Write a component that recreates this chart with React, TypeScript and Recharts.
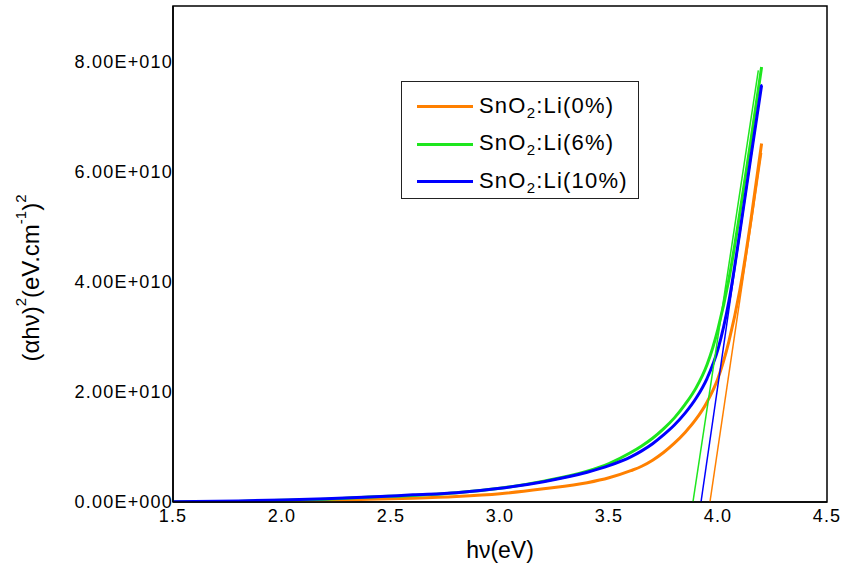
import { LineChart, Line, XAxis, YAxis, Legend, Label, ReferenceArea } from "recharts";

// photon energy grid (eV)
const hv = [1.5, 1.8, 2.0, 2.2, 2.4, 2.6, 2.8, 3.0, 3.2, 3.4, 3.5, 3.6, 3.65, 3.7, 3.75, 3.8, 3.85, 3.9, 3.95, 4.0, 4.05, 4.1, 4.15, 4.2];

// (alpha h nu)^2 in units of 1E+10
const li0 = [0.0, 0.005, 0.015, 0.03, 0.05, 0.07, 0.1, 0.15, 0.24, 0.35, 0.44, 0.57, 0.65, 0.76, 0.9, 1.07, 1.27, 1.51, 1.82, 2.25, 2.92, 3.85, 5.1, 6.52];
const li6 = [0.0, 0.01, 0.03, 0.05, 0.09, 0.12, 0.17, 0.25, 0.38, 0.56, 0.7, 0.9, 1.02, 1.16, 1.33, 1.53, 1.78, 2.08, 2.5, 3.15, 4.05, 5.25, 6.55, 7.91];
const li10 = [0.005, 0.02, 0.036, 0.06, 0.09, 0.13, 0.17, 0.25, 0.37, 0.54, 0.66, 0.82, 0.93, 1.06, 1.22, 1.4, 1.62, 1.89, 2.25, 2.78, 3.65, 4.9, 6.25, 7.58];

// linear fits (band gap extrapolation)
const fit0X = [3.963, 4.2];
const fit0Y = [0, 6.35];
const fit6X = [3.885, 4.185];
const fit6Y = [0, 7.85];
const fit10X = [3.922, 4.2];
const fit10Y = [0, 7.6];

const xTicks = [1.5, 2.0, 2.5, 3.0, 3.5, 4.0, 4.5];
const yTicks = [0, 2, 4, 6, 8];
const legendOrder = ["0%", "6%", "10%"];

const zip = (xs: number[], ys: number[]) => xs.map((x, i) => ({ x, y: ys[i] }));

const FONT = "'Liberation Sans', Arial, sans-serif";

const fmtY = (v: number) => v.toFixed(2) + (v === 0 ? "E+000" : "E+010");

function LegendBox({ payload }: any) {
  const items = (payload || [])
    .filter((p: any) => legendOrder.includes(p.value))
    .sort((a: any, b: any) => legendOrder.indexOf(a.value) - legendOrder.indexOf(b.value));
  return (
    <div
      style={{
        border: "1px solid #222",
        background: "#fff",
        width: 238,
        height: 118,
        boxSizing: "border-box",
        paddingTop: 6,
        fontFamily: FONT,
        fontSize: 22,
        color: "#000",
      }}
    >
      {items.map((p: any) => (
        <div key={p.value} style={{ display: "flex", alignItems: "center", height: 37.5 }}>
          <div style={{ width: 56, height: 3, background: p.color, marginLeft: 15, marginRight: 6 }} />
          <span style={{ letterSpacing: 1.2, whiteSpace: "nowrap" }}>
            SnO<sub style={{ fontSize: 15 }}>2</sub>:Li({p.value})
          </span>
        </div>
      ))}
    </div>
  );
}

function YTitle({ viewBox }: any) {
  const cx = 30;
  const cy = viewBox.y + viewBox.height / 2 + 24;
  return (
    <text
      x={cx}
      y={cy}
      transform={`rotate(-90 ${cx} ${cy})`}
      textAnchor="middle"
      dominantBaseline="central"
      fontFamily={FONT}
      fontSize={24}
      fill="#000"
    >
      (αhν)
      <tspan dy={-10} fontSize={15}>2</tspan>
      <tspan dy={10}>(eV.cm</tspan>
      <tspan dy={-10} fontSize={15}>-1</tspan>
      <tspan dy={10}>)</tspan>
      <tspan dy={-10} fontSize={15}>2</tspan>
    </text>
  );
}

const tickStyle = { fill: "#000", fontSize: 18, fontFamily: FONT, letterSpacing: 1.2 };

export default function App() {
  return (
    <div style={{ position: "absolute", left: 0, top: 0, background: "#fff" }}>
      <LineChart width={843} height={564} margin={{ top: 6, right: 16, bottom: 0, left: 0 }}>
        <XAxis
          dataKey="x"
          type="number"
          domain={[1.5, 4.5]}
          ticks={xTicks}
          tickFormatter={(v: number) => v.toFixed(1)}
          allowDataOverflow
          height={62}
          tickLine={false}
          tickSize={0}
          tickMargin={7}
          axisLine={{ stroke: "#000", strokeWidth: 1.5 }}
          tick={tickStyle}
        >
          <Label value="hν(eV)" position="insideBottom" offset={6} style={{ fill: "#000", fontSize: 23, fontFamily: FONT }} />
        </XAxis>
        <YAxis
          type="number"
          domain={[0, 9.02]}
          ticks={yTicks}
          tickFormatter={fmtY}
          allowDataOverflow
          width={173}
          tickLine={false}
          tickSize={0}
          tickMargin={0}
          axisLine={{ stroke: "#000", strokeWidth: 1.5 }}
          tick={tickStyle}
        >
          <Label content={<YTitle />} />
        </YAxis>
        <ReferenceArea x1={1.5} x2={4.5} y1={0} y2={9.02} fill="none" stroke="#000" strokeWidth={1.5} />
        <Legend
          layout="vertical"
          align="center"
          verticalAlign="middle"
          content={<LegendBox />}
          wrapperStyle={{ left: 401, top: 81, width: 238 }}
        />
        <Line data={zip(hv, li0)} dataKey="y" name="0%" type="monotone" stroke="#FF8000" strokeWidth={3} dot={false} isAnimationActive={false} />
        <Line data={zip(hv, li6)} dataKey="y" name="6%" type="monotone" stroke="#1EE61E" strokeWidth={3} dot={false} isAnimationActive={false} />
        <Line data={zip(hv, li10)} dataKey="y" name="10%" type="monotone" stroke="#0000FF" strokeWidth={3} dot={false} isAnimationActive={false} />
        <Line data={zip(fit0X, fit0Y)} dataKey="y" name="fit0" legendType="none" stroke="#FF8000" strokeWidth={1.5} dot={false} isAnimationActive={false} />
        <Line data={zip(fit6X, fit6Y)} dataKey="y" name="fit6" legendType="none" stroke="#1EE61E" strokeWidth={1.5} dot={false} isAnimationActive={false} />
        <Line data={zip(fit10X, fit10Y)} dataKey="y" name="fit10" legendType="none" stroke="#0000FF" strokeWidth={1.5} dot={false} isAnimationActive={false} />
      </LineChart>
    </div>
  );
}
